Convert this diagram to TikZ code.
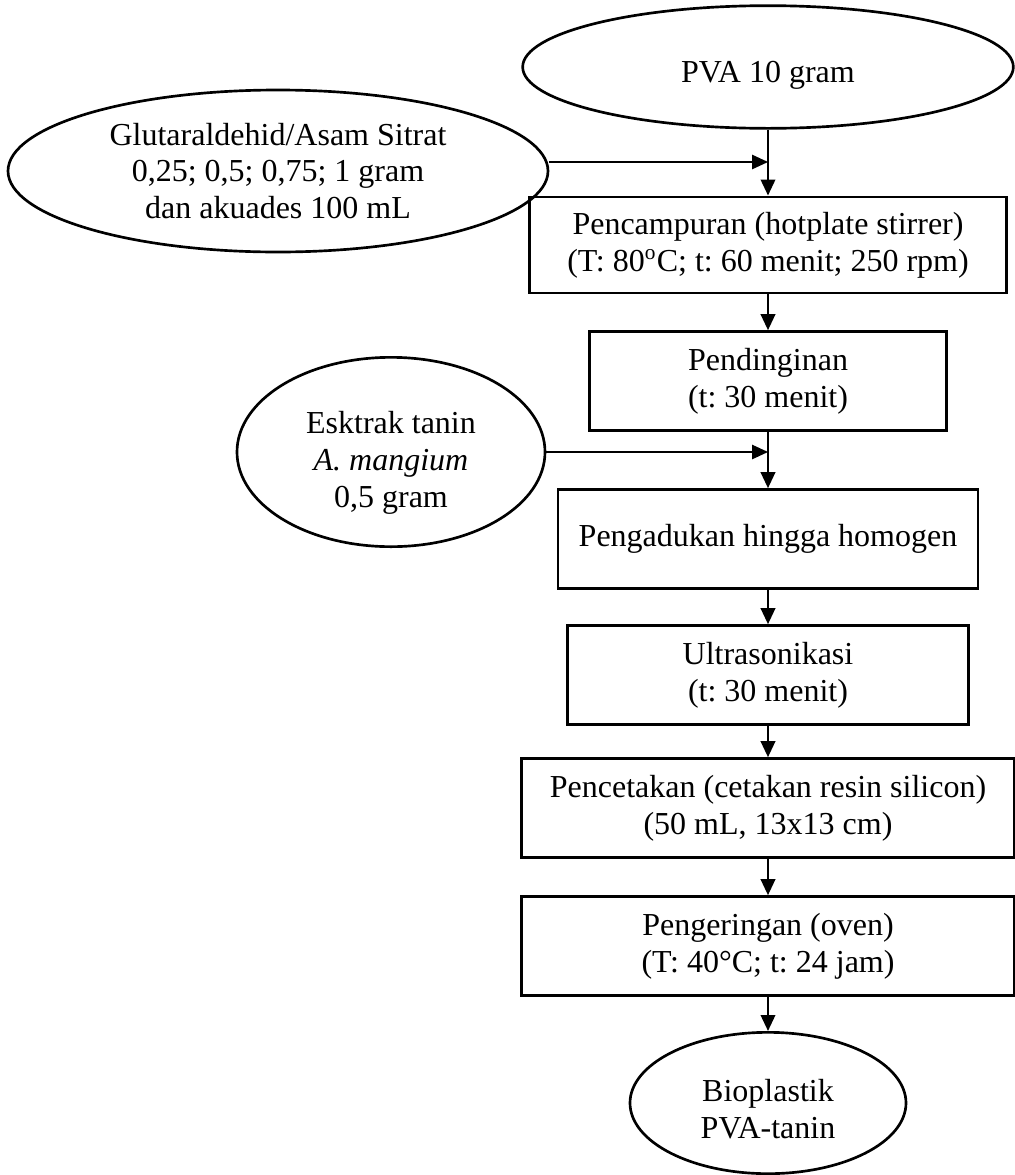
\documentclass[tikz,border=0pt]{standalone}
\usepackage{fontspec}
\setmainfont{Liberation Serif}
\usetikzlibrary{arrows.meta,shapes.geometric}
\frenchspacing

\begin{document}
\begin{tikzpicture}[x=0.375pt,y=-0.375pt,
    every node/.style={font=\fontsize{12}{13.8}\selectfont,align=center,inner sep=0pt},
    bahan/.style={draw,line width=1pt,ellipse},
    proses/.style={draw,line width=1.1pt,rectangle,minimum height=37pt},
    panah/.style={line width=0.9pt,-{Triangle[length=6pt,width=5.4pt]}}]
    \useasboundingbox (0,0) rectangle (1015,1175);
    \node[bahan,minimum width=184pt,minimum height=46pt,text height=14pt,text depth=2.5pt] (pva) at (768,67) {PVA 10 gram};
    \node[bahan,minimum width=202.5pt,minimum height=60.75pt] (glut) at (278,171)
      {Glutaraldehid/Asam Sitrat\\0,25; 0,5; 0,75; 1 gram\\dan akuades 100 mL};
    \node[proses,minimum width=179pt,minimum height=36pt] (box1) at (768,245)
      {Pencampuran (hotplate stirrer)\\(T: 80\textsuperscript{o}C; t: 60 menit; 250 rpm)};
    \node[proses,minimum width=134pt] (box2) at (768,381) {Pendinginan\\(t: 30 menit)};
    \node[bahan,minimum width=115.5pt,minimum height=71pt,text height=44pt] (ekstrak) at (391,452)
      {Esktrak tanin\\\textit{A. mangium}\\0,5 gram};
    \node[proses,minimum width=157.5pt] (box3) at (768,539) {Pengadukan hingga homogen};
    \node[proses,minimum width=150.5pt] (box4) at (768,675) {Ultrasonikasi\\(t: 30 menit)};
    \node[proses,minimum width=185pt] (box5) at (768,808) {Pencetakan (cetakan resin silicon)\\(50 mL, 13x13 cm)};
    \node[proses,minimum width=185pt] (box6) at (768,946) {Pengeringan (oven)\\(T: 40°C; t: 24 jam)};
    \node[bahan,minimum width=103.5pt,minimum height=53pt,text height=27pt] (hasil) at (768,1103) {Bioplastik\\PVA-tanin};
    \coordinate (m1) at (768,162);
    \draw[panah,line width=0.6pt] (glut.east |- m1) -- (m1);
    \draw[panah,line width=0.6pt] (ekstrak) -- (ekstrak -| box3);
    \foreach \a/\b in {pva/box1, box1/box2, box2/box3, box3/box4, box4/box5, box5/box6, box6/hasil}
      { \draw[panah] (\a) -- (\b); }
\end{tikzpicture}
\end{document}
